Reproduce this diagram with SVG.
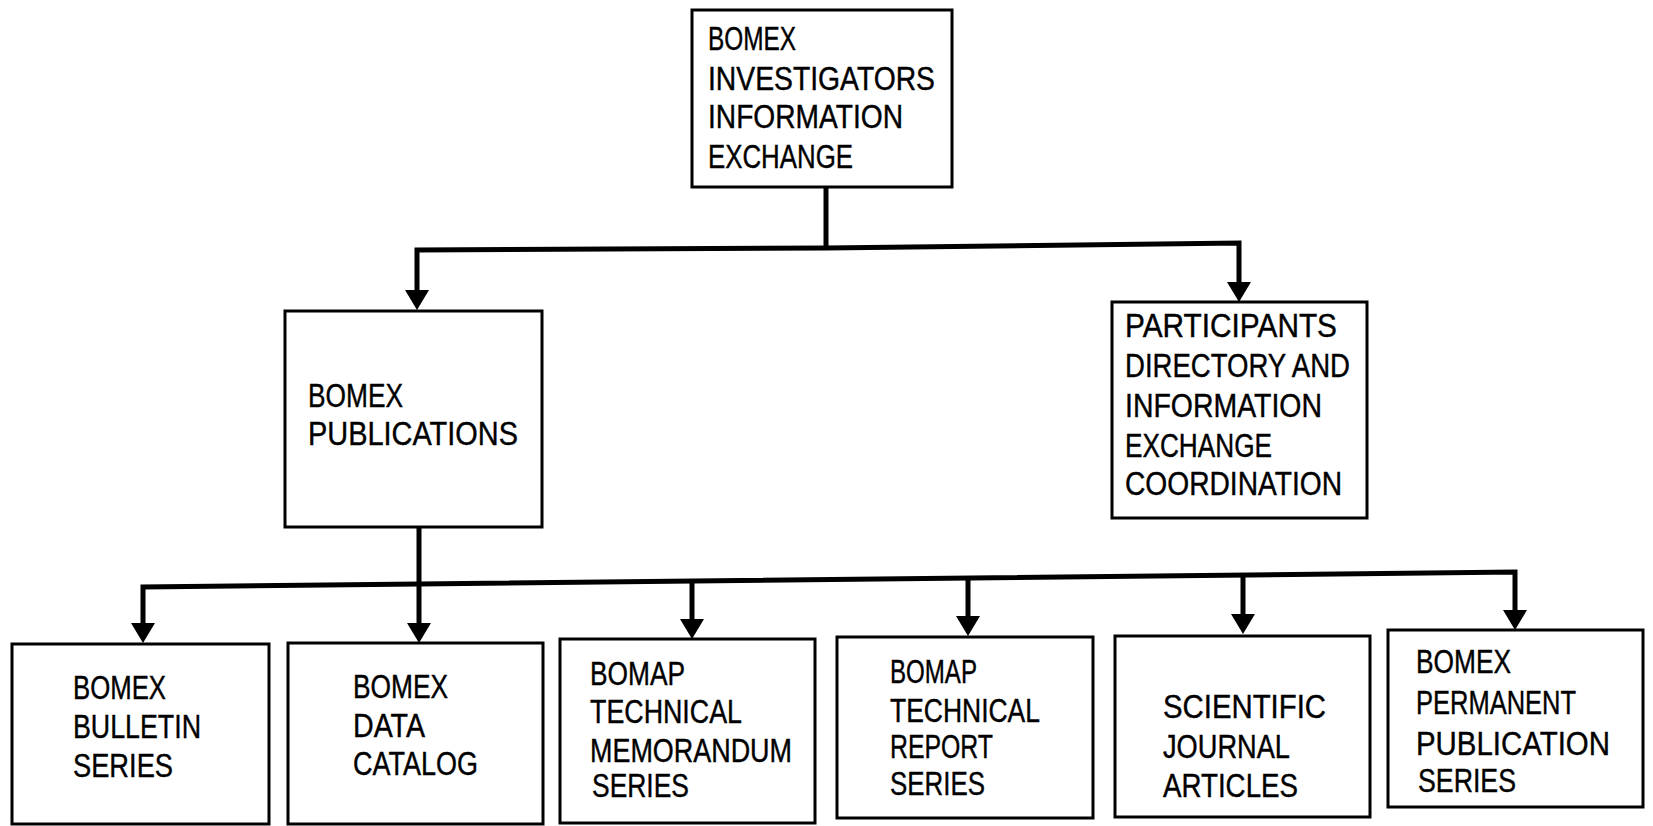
<svg xmlns="http://www.w3.org/2000/svg" width="1653" height="826" viewBox="0 0 1653 826">
<style>
.box{fill:#fff;stroke:#000;stroke-width:3}
.t{font-family:"Liberation Sans",Arial,sans-serif;font-size:32.5px;fill:#000;stroke:#000;stroke-width:0.4}
.c{fill:none;stroke:#000;stroke-width:5}
</style>
<defs>
<marker id="ah" viewBox="0 0 20 24" markerWidth="20" markerHeight="24" refX="10" refY="12" orient="auto" markerUnits="userSpaceOnUse">
<path d="M0,0 L20,12 L0,24 z" fill="#000"/>
</marker>
</defs>
<rect width="1653" height="826" fill="#fff"/>
<g id="connectors">
<path class="c" d="M826,187 V248"/>
<path class="c" d="M826,248 L417,250 V300" marker-end="url(#ah)"/>
<path class="c" d="M826,248 L1239,243 V292" marker-end="url(#ah)"/>
<path class="c" d="M419,527 V633" marker-end="url(#ah)"/>
<path class="c" d="M419,584 L143,587 V633" marker-end="url(#ah)"/>
<path class="c" d="M419,584 L1515,572 V620" marker-end="url(#ah)"/>
<path class="c" d="M692,581 V629" marker-end="url(#ah)"/>
<path class="c" d="M968,578 V626" marker-end="url(#ah)"/>
<path class="c" d="M1243,575 V624" marker-end="url(#ah)"/>
</g>
<g id="n-top">
<rect class="box" x="692" y="10" width="260" height="177"/>
<text class="t" x="708" y="50" textLength="88" lengthAdjust="spacingAndGlyphs">BOMEX</text>
<text class="t" x="708" y="90" textLength="227" lengthAdjust="spacingAndGlyphs">INVESTIGATORS</text>
<text class="t" x="708" y="128" textLength="195" lengthAdjust="spacingAndGlyphs">INFORMATION</text>
<text class="t" x="708" y="168" textLength="145" lengthAdjust="spacingAndGlyphs">EXCHANGE</text>
</g>
<g id="n-pub">
<rect class="box" x="285" y="311" width="257" height="216"/>
<text class="t" x="308" y="407" textLength="95" lengthAdjust="spacingAndGlyphs">BOMEX</text>
<text class="t" x="308" y="445" textLength="210" lengthAdjust="spacingAndGlyphs">PUBLICATIONS</text>
</g>
<g id="n-part">
<rect class="box" x="1112" y="302" width="255" height="216"/>
<text class="t" x="1125" y="337" textLength="212" lengthAdjust="spacingAndGlyphs">PARTICIPANTS</text>
<text class="t" x="1125" y="377" textLength="225" lengthAdjust="spacingAndGlyphs">DIRECTORY AND</text>
<text class="t" x="1125" y="417" textLength="197" lengthAdjust="spacingAndGlyphs">INFORMATION</text>
<text class="t" x="1125" y="457" textLength="147" lengthAdjust="spacingAndGlyphs">EXCHANGE</text>
<text class="t" x="1125" y="495" textLength="217" lengthAdjust="spacingAndGlyphs">COORDINATION</text>
</g>
<g id="n-bulletin">
<rect class="box" x="12" y="644" width="257" height="180"/>
<text class="t" x="73" y="699" textLength="93" lengthAdjust="spacingAndGlyphs">BOMEX</text>
<text class="t" x="73" y="738" textLength="128" lengthAdjust="spacingAndGlyphs">BULLETIN</text>
<text class="t" x="73" y="777" textLength="100" lengthAdjust="spacingAndGlyphs">SERIES</text>
</g>
<g id="n-catalog">
<rect class="box" x="288" y="643" width="255" height="181"/>
<text class="t" x="353" y="698" textLength="95" lengthAdjust="spacingAndGlyphs">BOMEX</text>
<text class="t" x="353" y="737" textLength="72" lengthAdjust="spacingAndGlyphs">DATA</text>
<text class="t" x="353" y="775" textLength="125" lengthAdjust="spacingAndGlyphs">CATALOG</text>
</g>
<g id="n-memo">
<rect class="box" x="560" y="639" width="255" height="184"/>
<text class="t" x="590" y="685" textLength="95" lengthAdjust="spacingAndGlyphs">BOMAP</text>
<text class="t" x="590" y="723" textLength="152" lengthAdjust="spacingAndGlyphs">TECHNICAL</text>
<text class="t" x="590" y="762" textLength="202" lengthAdjust="spacingAndGlyphs">MEMORANDUM</text>
<text class="t" x="592" y="797" textLength="97" lengthAdjust="spacingAndGlyphs">SERIES</text>
</g>
<g id="n-report">
<rect class="box" x="837" y="637" width="256" height="181"/>
<text class="t" x="890" y="683" textLength="87" lengthAdjust="spacingAndGlyphs">BOMAP</text>
<text class="t" x="890" y="722" textLength="150" lengthAdjust="spacingAndGlyphs">TECHNICAL</text>
<text class="t" x="890" y="758" textLength="103" lengthAdjust="spacingAndGlyphs">REPORT</text>
<text class="t" x="890" y="795" textLength="95" lengthAdjust="spacingAndGlyphs">SERIES</text>
</g>
<g id="n-journal">
<rect class="box" x="1115" y="636" width="255" height="181"/>
<text class="t" x="1163" y="718" textLength="163" lengthAdjust="spacingAndGlyphs">SCIENTIFIC</text>
<text class="t" x="1163" y="758" textLength="127" lengthAdjust="spacingAndGlyphs">JOURNAL</text>
<text class="t" x="1163" y="797" textLength="135" lengthAdjust="spacingAndGlyphs">ARTICLES</text>
</g>
<g id="n-permanent">
<rect class="box" x="1388" y="630" width="255" height="177"/>
<text class="t" x="1416" y="673" textLength="95" lengthAdjust="spacingAndGlyphs">BOMEX</text>
<text class="t" x="1416" y="714" textLength="160" lengthAdjust="spacingAndGlyphs">PERMANENT</text>
<text class="t" x="1416" y="755" textLength="194" lengthAdjust="spacingAndGlyphs">PUBLICATION</text>
<text class="t" x="1418" y="792" textLength="98" lengthAdjust="spacingAndGlyphs">SERIES</text>
</g>
</svg>
